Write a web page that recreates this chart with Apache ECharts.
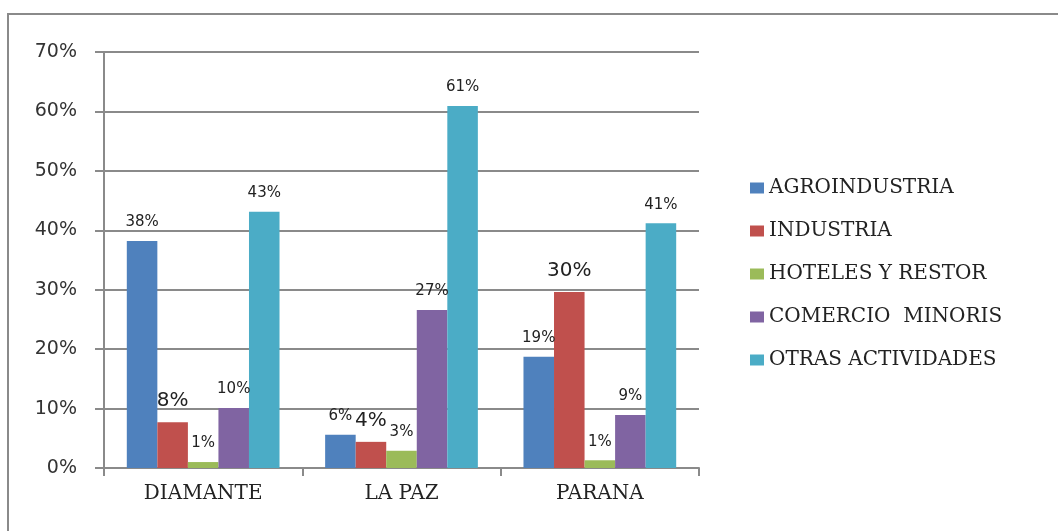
<!DOCTYPE html>
<html>
<head>
<meta charset="utf-8">
<script src="https://cdn.jsdelivr.net/npm/echarts@6/dist/echarts.min.js"></script>
<style>
  html, body { margin: 0; padding: 0; background: #fff; }
  #chart { width: 1058px; height: 531px; }
</style>
</head>
<body>
<div id="chart"></div>
<script>
// datos (porcentaje)
var categorias = ['DIAMANTE', 'LA PAZ', 'PARANA'];
var sectores = ['AGROINDUSTRIA', 'INDUSTRIA', 'HOTELES Y RESTOR', 'COMERCIO  MINORIS', 'OTRAS ACTIVIDADES'];
var agroindustria = [38.2, 5.6, 18.7];
var industria = [7.7, 4.4, 29.6];
var hoteles = [1.0, 2.9, 1.3];
var comercio = [10.1, 26.6, 8.9];
var otras = [43.1, 60.9, 41.2];
var colores = ['#4F81BD', '#C0504D', '#9BBB59', '#8064A2', '#4BACC6'];

var valores = [agroindustria, industria, hoteles, comercio, otras];

//etiqueta sobre cada barra
function etiqueta(grande) {
    return {
        show: true,
        position: 'top',
        distance: grande ? 11 : 11,
        color: '#222',
        fontFamily: 'DejaVu Sans',
        fontSize: grande ? 20 : 15,
        formatter: function (p) { return Math.round(p.value) + '%'; }
    };
}

var series = sectores.map(function (nombre, i) {
    return {
        name: nombre,
        type: 'bar',
        data: valores[i],
        itemStyle: { color: colores[i] },
        barGap: '0%',
        barCategoryGap: '23%',
        label: etiqueta(i === 1)
    };
});

var chart = echarts.init(document.getElementById('chart'));
chart.setOption({
    animation: false,
    graphic: [{
        type: 'rect',
        shape: { x: 8, y: 14, width: 1100, height: 600 },
        style: { fill: 'none', stroke: '#8a8a8a', lineWidth: 2 },
        silent: true
    }],
    grid: { left: 104, right: 359, top: 52, bottom: 63 },
    legend: {
        orient: 'vertical',
        left: 745,
        top: 173,
        itemWidth: 14,
        itemHeight: 11,
        itemGap: 23,
        icon: 'rect',
        textStyle: { fontFamily: 'DejaVu Serif', fontSize: 20, color: '#222', lineHeight: 20 },
        data: sectores
    },
    xAxis: {
        type: 'category',
        data: categorias,
        axisLine: { lineStyle: { color: '#8a8a8a', width: 2 } },
        axisTick: { show: true, length: 8, lineStyle: { color: '#8a8a8a', width: 2 } },
        axisLabel: { fontFamily: 'DejaVu Serif', fontSize: 20, color: '#222', margin: 16 }
    },
    yAxis: {
        type: 'value',
        min: 0,
        max: 70,
        interval: 10,
        axisLine: { show: true, lineStyle: { color: '#8a8a8a', width: 2 } },
        axisTick: { show: true, length: 9, lineStyle: { color: '#8a8a8a', width: 2 } },
        splitLine: { lineStyle: { color: '#8a8a8a', width: 2 } },
        axisLabel: { fontFamily: 'DejaVu Sans', fontSize: 19, color: '#333', margin: 27, formatter: '{value}%' }
    },
    series: series
});
</script>
</body>
</html>
